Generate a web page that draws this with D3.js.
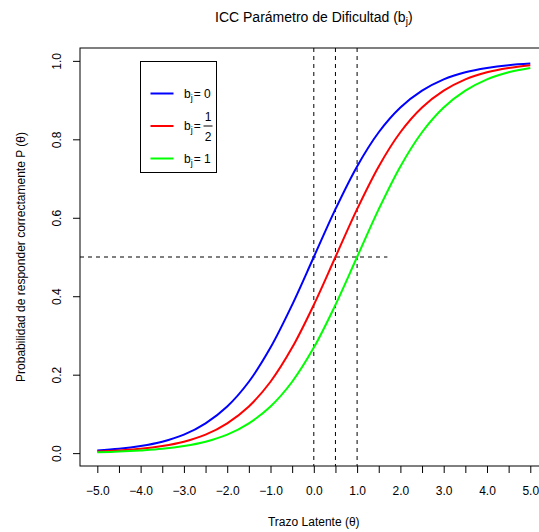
<!DOCTYPE html>
<html>
<head>
  <meta charset="utf-8">
  <title>ICC Parámetro de Dificultad</title>
  <script src="https://d3js.org/d3.v7.min.js"></script>
  <style>
    body { margin: 0; background: #fff; }
    svg { display: block; font-family: "Liberation Sans", Arial, Helvetica, sans-serif; }
    .curve { fill: none; stroke-width: 2; }
    .ref { stroke: #000; stroke-width: 1; stroke-dasharray: 4,4; fill: none; }
  </style>
</head>
<body>
  <svg width="539" height="532"></svg>

  <script>
    // theta grid and probabilities
    const theta = [-5, -4.5, -4, -3.5, -3, -2.5, -2, -1.5, -1, -0.5, 0, 0.5, 1, 1.5, 2, 2.5, 3, 3.5, 4, 4.5, 5];
    const pB0 = [0.007, 0.011, 0.018, 0.029, 0.047, 0.076, 0.119, 0.182, 0.269, 0.378, 0.500, 0.622, 0.731, 0.818, 0.881, 0.924, 0.953, 0.971, 0.982, 0.989, 0.993];
    const pBhalf = [0.004, 0.007, 0.011, 0.018, 0.029, 0.047, 0.076, 0.119, 0.182, 0.269, 0.378, 0.500, 0.622, 0.731, 0.818, 0.881, 0.924, 0.953, 0.971, 0.982, 0.989];
    const pB1 = [0.002, 0.004, 0.007, 0.011, 0.018, 0.029, 0.047, 0.076, 0.119, 0.182, 0.269, 0.378, 0.500, 0.622, 0.731, 0.818, 0.881, 0.924, 0.953, 0.971, 0.982];
    const difficulties = [0, 0.5, 1];
    const colors = ["#0000ff", "#ff0000", "#00ff00"];
    const xTicks = d3.range(-5, 5.01, 0.5);
    const xLabels = [-5, -4, -3, -2, -1, 0, 1, 2, 3, 4, 5];
    const yTicks = [0, 0.2, 0.4, 0.6, 0.8, 1.0];

    const svg = d3.select("svg");
    const mLeft = 80, mRight = 547.6, mTop = 48, mBottom = 466;

    const x = d3.scaleLinear().domain([-5.4, 5.4]).range([mLeft, mRight]);
    const y = d3.scaleLinear().domain([-0.0328, 1.0328]).range([mBottom, mTop]);
    const fmt = d3.format(".1f");

    // reference lines
    difficulties.forEach(b => {
      svg.append("line").attr("class", "ref")
        .attr("x1", x(b)).attr("x2", x(b))
        .attr("y1", mTop).attr("y2", mBottom);
    });
    svg.append("line").attr("class", "ref")
      .attr("x1", mLeft).attr("x2", x(1.7))
      .attr("y1", y(0.5)).attr("y2", y(0.5));

    // curves
    const line = d3.line()
      .x((d, i) => x(theta[i]))
      .y(d => y(d))
      .curve(d3.curveCatmullRom);
    [pB0, pBhalf, pB1].forEach((s, i) => {
      svg.append("path").attr("class", "curve")
        .attr("stroke", colors[i])
        .attr("d", line(s));
    });

    // box
    svg.append("rect")
      .attr("x", mLeft).attr("y", mTop)
      .attr("width", mRight - mLeft).attr("height", mBottom - mTop)
      .attr("fill", "none").attr("stroke", "#000").attr("stroke-width", 1);

    // x axis
    const xAxis = d3.axisBottom(x).tickValues(xTicks).tickSize(7).tickPadding(0)
      .tickFormat(d => xLabels.includes(d) ? fmt(d) : "");
    const gx = svg.append("g").attr("transform", `translate(0,${mBottom})`).call(xAxis);
    gx.select(".domain").remove();
    gx.selectAll("text").attr("font-size", 12).attr("fill", "#000")
      .attr("font-family", "Liberation Sans, Arial, sans-serif")
      .attr("dy", null).attr("y", 29);

    // y axis
    const yAxis = d3.axisLeft(y).tickValues(yTicks).tickSize(7).tickFormat(fmt);
    const gy = svg.append("g").attr("transform", `translate(${mLeft},0)`).call(yAxis);
    gy.select(".domain").remove();
    gy.selectAll("text")
      .attr("font-size", 12).attr("fill", "#000")
      .attr("font-family", "Liberation Sans, Arial, sans-serif")
      .attr("x", null).attr("dy", null)
      .attr("text-anchor", "middle")
      .attr("transform", "translate(-19,0) rotate(-90)");

    // titles
    const title = svg.append("text")
      .attr("x", (mLeft + mRight) / 2).attr("y", 22)
      .attr("text-anchor", "middle").attr("font-size", 14);
    title.append("tspan").text("ICC Parámetro de Dificultad (b");
    title.append("tspan").attr("font-size", 10).attr("dy", 3).text("j");
    title.append("tspan").attr("dy", -3).text(")");

    svg.append("text")
      .attr("x", (mLeft + mRight) / 2).attr("y", 526)
      .attr("text-anchor", "middle").attr("font-size", 12)
      .text("Trazo Latente (θ)");

    svg.append("text")
      .attr("transform", `translate(25,${(mTop + mBottom) / 2}) rotate(-90)`)
      .attr("text-anchor", "middle").attr("font-size", 12)
      .text("Probabilidad de responder correctamente P (θ)");

    // legend
    const lg = svg.append("g");
    lg.append("rect")
      .attr("x", 140.5).attr("y", 61.5).attr("width", 76).attr("height", 111)
      .attr("fill", "#fff").attr("stroke", "#000").attr("stroke-width", 1);
    const legendY = [93.5, 126, 158.5];
    const legendText = ["0", null, "1"];
    legendY.forEach((ly, i) => {
      lg.append("line")
        .attr("x1", 150.5).attr("x2", 173.5).attr("y1", ly).attr("y2", ly)
        .attr("stroke", colors[i]).attr("stroke-width", 2);
      const t = lg.append("text").attr("x", 184).attr("y", ly + 4).attr("font-size", 12);
      t.append("tspan").text("b");
      t.append("tspan").attr("font-size", 9).attr("dy", 3).text("j");
      t.append("tspan").attr("dy", -3).attr("dx", 1).text(legendText[i] !== null ? "= " + legendText[i] : "=");
      if (legendText[i] === null) {
        lg.append("text").attr("x", 208).attr("y", ly - 5).attr("text-anchor", "middle")
          .attr("font-size", 12).text("1");
        lg.append("line").attr("x1", 203.5).attr("x2", 212.5)
          .attr("y1", ly).attr("y2", ly).attr("stroke", "#000").attr("stroke-width", 1);
        lg.append("text").attr("x", 208).attr("y", ly + 15).attr("text-anchor", "middle")
          .attr("font-size", 12).text("2");
      }
    });
  </script>
</body>
</html>
